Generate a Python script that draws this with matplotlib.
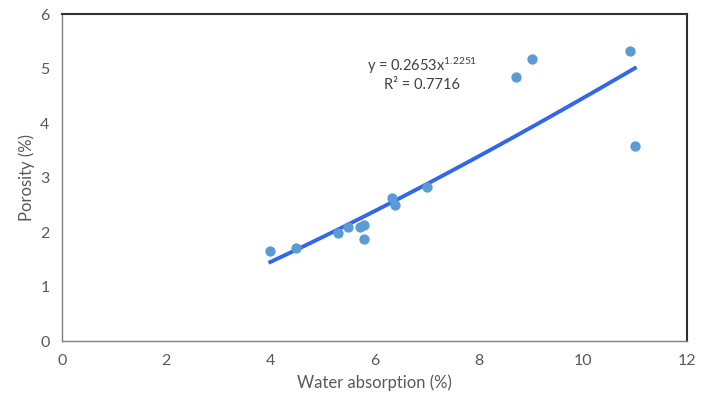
import matplotlib.pyplot as plt
import numpy as np

plt.rcParams['font.family'] = ['Lato', 'DejaVu Sans']
plt.rcParams['mathtext.fontset'] = 'custom'
plt.rcParams['mathtext.rm'] = 'Lato'
plt.rcParams['mathtext.it'] = 'Lato'

# measured data
water_abs = [4.0, 4.5, 5.3, 5.5, 5.72, 5.8, 5.8, 6.33, 6.4, 7.0, 8.72, 9.02, 10.9, 11.0]
porosity = [1.66, 1.71, 1.99, 2.1, 2.1, 2.13, 1.87, 2.63, 2.5, 2.83, 4.85, 5.17, 5.32, 3.58]

# power trendline y = a*x^b
fit_a = 0.2653
fit_b = 1.2251
fit_x = np.linspace(min(water_abs), max(water_abs), 100)

fig = plt.figure(figsize=(7.09, 3.98), dpi=100)
ax = fig.add_axes([0.0874, 0.1432, 0.8815, 0.8216])

ax.scatter(water_abs, porosity, s=55, color='#5B9BD5', zorder=3, linewidths=0)
ax.plot(fit_x, fit_a * fit_x ** fit_b, color='#3366F0', lw=2.8, zorder=2)

ax.set_xlim(0, 12)
ax.set_ylim(0, 6)
ax.set_xticks(range(0, 13, 2))
ax.set_yticks(range(0, 7))
ax.tick_params(length=0, labelsize=11.5, labelcolor='#595959', pad=9)

for s in ['left', 'bottom']:
    ax.spines[s].set_color('#808080')
    ax.spines[s].set_linewidth(1.0)
for s in ['top', 'right']:
    ax.spines[s].set_color('#303030')
    ax.spines[s].set_linewidth(1.5)

ax.set_xlabel('Water absorption (%)', fontsize=12, color='#595959', labelpad=5)
ax.set_ylabel('Porosity (%)', fontsize=12, color='#595959', labelpad=4)

ax.text(6.91, 5.05, 'y = 0.2653x$^{1.2251}$', fontsize=10.5, color='#404040', ha='center', va='center')
ax.text(6.91, 4.70, 'R² = 0.7716', fontsize=10.5, color='#404040', ha='center', va='center')

plt.savefig('out.png', dpi=100)
